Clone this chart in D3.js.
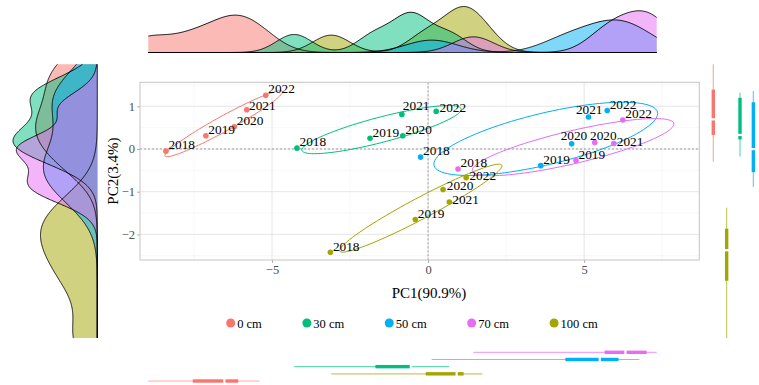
<!DOCTYPE html>
<html>
<head>
<meta charset="utf-8">
<script src="https://cdn.jsdelivr.net/npm/d3@7"></script>
<style>
  body { margin: 0; background: #fff; }
  text { font-family: "Liberation Serif", "Times New Roman", serif; }
</style>
</head>
<body>
<svg id="chart" width="759" height="385"></svg>
<script>
// ---- data: PCA scores per depth, one entry per year ----
const groups = ["0 cm", "100 cm", "30 cm", "50 cm", "70 cm"];      // factor order
const legendOrder = ["0 cm", "30 cm", "50 cm", "70 cm", "100 cm"];
const groupColors = ["#F8766D", "#A3A500", "#00BF7D", "#00B0F6", "#E76BF3"];
const years = ["2018", "2019", "2020", "2021", "2022"];

const pc1_0cm   = [-8.40, -7.12, -6.21, -5.81, -5.20];
const pc2_0cm   = [-0.05,  0.31,  0.52,  0.92,  1.26];
const pc1_30cm  = [-4.20, -1.86, -0.81, -0.84,  0.26];
const pc2_30cm  = [ 0.02,  0.25,  0.31,  0.81,  0.88];
const pc1_50cm  = [-0.24,  3.61,  4.60,  5.14,  5.74];
const pc2_50cm  = [-0.19, -0.39,  0.12,  0.75,  0.90];
const pc1_70cm  = [ 0.96,  4.74,  5.34,  5.95,  6.24];
const pc2_70cm  = [-0.47, -0.27,  0.15,  0.13,  0.68];
const pc1_100cm = [-3.13, -0.41,  0.48,  0.68,  1.22];
const pc2_100cm = [-2.42, -1.65, -0.95, -1.24, -0.67];

const xTicks = [-5, 0, 5];
const yTicks = [-2, -1, 0, 1];
const xTitle = "PC1(90.9%)";
const yTitle = "PC2(3.4%)";

// ---- assemble series ----
const pcByGroup = {
  "0 cm":   [pc1_0cm, pc2_0cm],
  "30 cm":  [pc1_30cm, pc2_30cm],
  "50 cm":  [pc1_50cm, pc2_50cm],
  "70 cm":  [pc1_70cm, pc2_70cm],
  "100 cm": [pc1_100cm, pc2_100cm]
};
const color = d3.scaleOrdinal().domain(groups).range(groupColors);
const series = groups.map(g => ({
  group: g,
  pts: years.map((yr, i) => ({ year: yr, pc1: pcByGroup[g][0][i], pc2: pcByGroup[g][1][i] }))
}));
const allPts = series.flatMap(s => s.pts.map(p => Object.assign({ group: s.group }, p)));

// label placement (pixels, relative to the point; y is the text baseline)
const labelDefault = [2.5, -1.8];
const labelShift = {
  "50 cm-2020": [-11, -3.7], "50 cm-2021": [-12.6, -2.7],
  "70 cm-2020": [-4.7, -2.7], "70 cm-2021": [3, 2.6],
  "100 cm-2021": [3, 2.3], "100 cm-2022": [3.3, 2.3],
  "30 cm-2021": [1, -4], "30 cm-2022": [3.3, 0.4],
  "0 cm-2021": [2.3, 0.3], "100 cm-2020": [3.7, 0.3]
};

const svg = d3.select("#chart");

// ---- main panel ----
const P = { left: 140, right: 699.3, top: 82.3, bottom: 260 };
const x = d3.scaleLinear().domain([-9.23, 8.69]).range([P.left, P.right]);
const y = d3.scaleLinear().domain([-2.60, 1.562]).range([P.bottom, P.top]);

const mainG = svg.append("g");
mainG.append("rect").attr("x", P.left).attr("y", P.top)
  .attr("width", P.right - P.left).attr("height", P.bottom - P.top).attr("fill", "#fff");

const minorX = [-7.5, -2.5, 2.5, 7.5], minorY = [-2.5, -1.5, -0.5, 0.5, 1.5];
mainG.selectAll(".gmx").data(minorX).join("line")
  .attr("x1", d => x(d)).attr("x2", d => x(d)).attr("y1", P.top).attr("y2", P.bottom)
  .attr("stroke", "#EFEFEF").attr("stroke-width", 0.5);
mainG.selectAll(".gmy").data(minorY).join("line")
  .attr("y1", d => y(d)).attr("y2", d => y(d)).attr("x1", P.left).attr("x2", P.right)
  .attr("stroke", "#EFEFEF").attr("stroke-width", 0.5);
mainG.selectAll(".gx").data(xTicks).join("line")
  .attr("x1", d => x(d)).attr("x2", d => x(d)).attr("y1", P.top).attr("y2", P.bottom)
  .attr("stroke", "#E0E0E0").attr("stroke-width", 0.8);
mainG.selectAll(".gy").data(yTicks).join("line")
  .attr("y1", d => y(d)).attr("y2", d => y(d)).attr("x1", P.left).attr("x2", P.right)
  .attr("stroke", "#E0E0E0").attr("stroke-width", 0.8);

// reference lines through the origin
mainG.append("line").attr("x1", x(0)).attr("x2", x(0)).attr("y1", P.top).attr("y2", P.bottom)
  .attr("stroke", "#8C8C8C").attr("stroke-width", 0.8).attr("stroke-dasharray", "2,2");
mainG.append("line").attr("y1", y(0)).attr("y2", y(0)).attr("x1", P.left).attr("x2", P.right)
  .attr("stroke", "#8C8C8C").attr("stroke-width", 0.8).attr("stroke-dasharray", "2,2");

// 68% normal-theory ellipse from each group's covariance
const ellipseRadius = Math.sqrt(-2 * Math.log(1 - 0.68));
function ellipsePoints(pts) {
  const n = pts.length;
  const mx = d3.mean(pts, p => p.pc1), my = d3.mean(pts, p => p.pc2);
  let sxx = 0, syy = 0, sxy = 0;
  pts.forEach(p => {
    const dx = p.pc1 - mx, dy = p.pc2 - my;
    sxx += dx * dx; syy += dy * dy; sxy += dx * dy;
  });
  sxx /= n - 1; syy /= n - 1; sxy /= n - 1;
  // Cholesky factor of the covariance matrix
  const a = Math.sqrt(sxx), b = sxy / a, c = Math.sqrt(Math.max(syy - b * b, 0));
  return d3.range(0, 101).map(k => {
    const t = 2 * Math.PI * k / 100;
    const u = Math.cos(t) * ellipseRadius, v = Math.sin(t) * ellipseRadius;
    return [mx + u * a, my + u * b + v * c];
  });
}
const ellLine = d3.line().x(d => x(d[0])).y(d => y(d[1])).curve(d3.curveLinearClosed);
mainG.selectAll(".ell").data(series).join("path")
  .attr("d", s => ellLine(ellipsePoints(s.pts)))
  .attr("fill", "none").attr("stroke", s => color(s.group)).attr("stroke-width", 1);

mainG.selectAll(".pt").data(allPts).join("circle")
  .attr("cx", d => x(d.pc1)).attr("cy", d => y(d.pc2)).attr("r", 2.8)
  .attr("fill", d => color(d.group));

mainG.selectAll(".lab").data(allPts).join("text")
  .attr("x", d => x(d.pc1) + (labelShift[d.group + "-" + d.year] || labelDefault)[0])
  .attr("y", d => y(d.pc2) + (labelShift[d.group + "-" + d.year] || labelDefault)[1])
  .attr("font-size", 13.3).attr("fill", "#000").text(d => d.year);

mainG.append("rect").attr("x", P.left).attr("y", P.top)
  .attr("width", P.right - P.left).attr("height", P.bottom - P.top)
  .attr("fill", "none").attr("stroke", "#C4C4C4").attr("stroke-width", 1);

// axes
const fmt = d => d < 0 ? "\u2212" + Math.abs(d) : String(d);
const xAxisG = svg.append("g").attr("transform", `translate(0,${P.bottom})`)
  .call(d3.axisBottom(x).tickValues(xTicks).tickFormat(fmt).tickSize(3).tickPadding(2));
const yAxisG = svg.append("g").attr("transform", `translate(${P.left},0)`)
  .call(d3.axisLeft(y).tickValues(yTicks).tickFormat(fmt).tickSize(3).tickPadding(2));
[xAxisG, yAxisG].forEach(ax => {
  ax.select(".domain").remove();
  ax.selectAll(".tick line").attr("stroke", "#B3B3B3");
  ax.selectAll(".tick text").attr("fill", "#4D4D4D").attr("font-size", 12.5)
    .attr("font-family", "Liberation Serif, Times New Roman, serif");
});

svg.append("text").attr("x", 429).attr("y", 298).attr("text-anchor", "middle")
  .attr("font-size", 15).text(xTitle);
svg.append("text").attr("transform", `translate(118,${(P.top + P.bottom) / 2}) rotate(-90)`)
  .attr("text-anchor", "middle").attr("font-size", 15).text(yTitle);

// legend
const legendG = svg.append("g");
let lx = 230.7;
legendOrder.forEach(g => {
  legendG.append("circle").attr("cx", lx).attr("cy", 323).attr("r", 4.5).attr("fill", color(g));
  const t = legendG.append("text").attr("x", lx + 6.5).attr("y", 327.5)
    .attr("font-size", 12.5).text(g);
  lx += 6.5 + t.node().getComputedTextLength() + 45;
});

// ---- marginal kernel densities (Gaussian kernel, bw.nrd0) ----
function bwNrd0(v) {
  const s = [...v].sort(d3.ascending);
  const sd = d3.deviation(s);
  const iqr = d3.quantile(s, 0.75) - d3.quantile(s, 0.25);
  const lo = Math.min(sd, iqr / 1.34) || sd || 1;
  return 0.9 * lo * Math.pow(s.length, -0.2);
}
function kde(v, lo, hi) {
  const h = bwNrd0(v);
  return d3.range(512).map(i => {
    const t = lo + (hi - lo) * i / 511;
    const d = d3.mean(v, xi => Math.exp(-0.5 * ((t - xi) / h) ** 2)) / (h * Math.sqrt(2 * Math.PI));
    return [t, d];
  });
}
const pc1Ext = d3.extent(allPts, d => d.pc1);
const pc2Ext = d3.extent(allPts, d => d.pc2);
const dens1 = series.map(s => ({ group: s.group, curve: kde(s.pts.map(p => p.pc1), pc1Ext[0], pc1Ext[1]) }));
const dens2 = series.map(s => ({ group: s.group, curve: kde(s.pts.map(p => p.pc2), pc2Ext[0], pc2Ext[1]) }));

// top: PC1 density
const mx1 = d3.scaleLinear().domain(pc1Ext).range([148.3, 656.7]);
const topG = svg.append("g");
const dy1 = d3.scaleLinear().domain([0, d3.max(dens1, d => d3.max(d.curve, c => c[1]))]).range([52.5, 6.5]);
topG.selectAll(".fill").data(dens1).join("path")
  .attr("d", d => d3.area().x(c => mx1(c[0])).y0(dy1(0)).y1(c => dy1(c[1])).curve(d3.curveBasis)(d.curve))
  .attr("fill", d => color(d.group)).attr("fill-opacity", 0.5);
topG.selectAll(".edge").data(dens1).join("path")
  .attr("d", d => d3.line().x(c => mx1(c[0])).y(c => dy1(c[1])).curve(d3.curveBasis)(d.curve))
  .attr("fill", "none").attr("stroke", "#000").attr("stroke-width", 0.9);

// left: PC2 density, turned on its side
const my2 = d3.scaleLinear().domain(pc2Ext).range([338, 64.3]);
const leftG = svg.append("g");
const dx2 = d3.scaleLinear().domain([0, d3.max(dens2, d => d3.max(d.curve, c => c[1]))]).range([97.3, 13]);
leftG.selectAll(".fill").data(dens2).join("path")
  .attr("d", d => d3.area().y(c => my2(c[0])).x0(dx2(0)).x1(c => dx2(c[1])).curve(d3.curveBasis)(d.curve))
  .attr("fill", d => color(d.group)).attr("fill-opacity", 0.5);
leftG.selectAll(".edge").data(dens2).join("path")
  .attr("d", d => d3.line().y(c => my2(c[0])).x(c => dx2(c[1])).curve(d3.curveBasis)(d.curve))
  .attr("fill", "none").attr("stroke", "#000").attr("stroke-width", 0.9);

// ---- marginal box plots (whiskers to min / max) ----
function boxStats(v) {
  const s = [...v].sort(d3.ascending);
  return { min: s[0], q1: d3.quantile(s, 0.25), med: d3.quantile(s, 0.5), q3: d3.quantile(s, 0.75), max: s[s.length - 1] };
}
// bottom: PC1, one row per group
const band1 = d3.scalePoint().domain(groups).range([381, 352.3]);
const bottomG = svg.append("g");
series.forEach(s => {
  const b = boxStats(s.pts.map(p => p.pc1)), c = color(s.group), yy = band1(s.group);
  bottomG.append("line").attr("x1", mx1(b.min)).attr("x2", mx1(b.max)).attr("y1", yy).attr("y2", yy)
    .attr("stroke", c).attr("stroke-opacity", 0.6).attr("stroke-width", 1.2);
  bottomG.append("rect").attr("x", mx1(b.q1)).attr("y", yy - 1.7)
    .attr("width", mx1(b.q3) - mx1(b.q1)).attr("height", 3.4).attr("fill", c);
  bottomG.append("line").attr("x1", mx1(b.med)).attr("x2", mx1(b.med)).attr("y1", yy - 2.5).attr("y2", yy + 2.5)
    .attr("stroke", "#fff").attr("stroke-width", 2.2);
});
// right: PC2, one column per group
const band2 = d3.scalePoint().domain(groups).range([713.3, 766.7]);
const rightG = svg.append("g");
series.forEach(s => {
  const b = boxStats(s.pts.map(p => p.pc2)), c = color(s.group), xx = band2(s.group);
  rightG.append("line").attr("y1", my2(b.min)).attr("y2", my2(b.max)).attr("x1", xx).attr("x2", xx)
    .attr("stroke", c).attr("stroke-opacity", 0.6).attr("stroke-width", 1.2);
  rightG.append("rect").attr("y", my2(b.q3)).attr("x", xx - 1.7)
    .attr("height", my2(b.q1) - my2(b.q3)).attr("width", 3.4).attr("fill", c);
  rightG.append("line").attr("y1", my2(b.med)).attr("y2", my2(b.med)).attr("x1", xx - 2.5).attr("x2", xx + 2.5)
    .attr("stroke", "#fff").attr("stroke-width", 2.2);
});
</script>
</body>
</html>
